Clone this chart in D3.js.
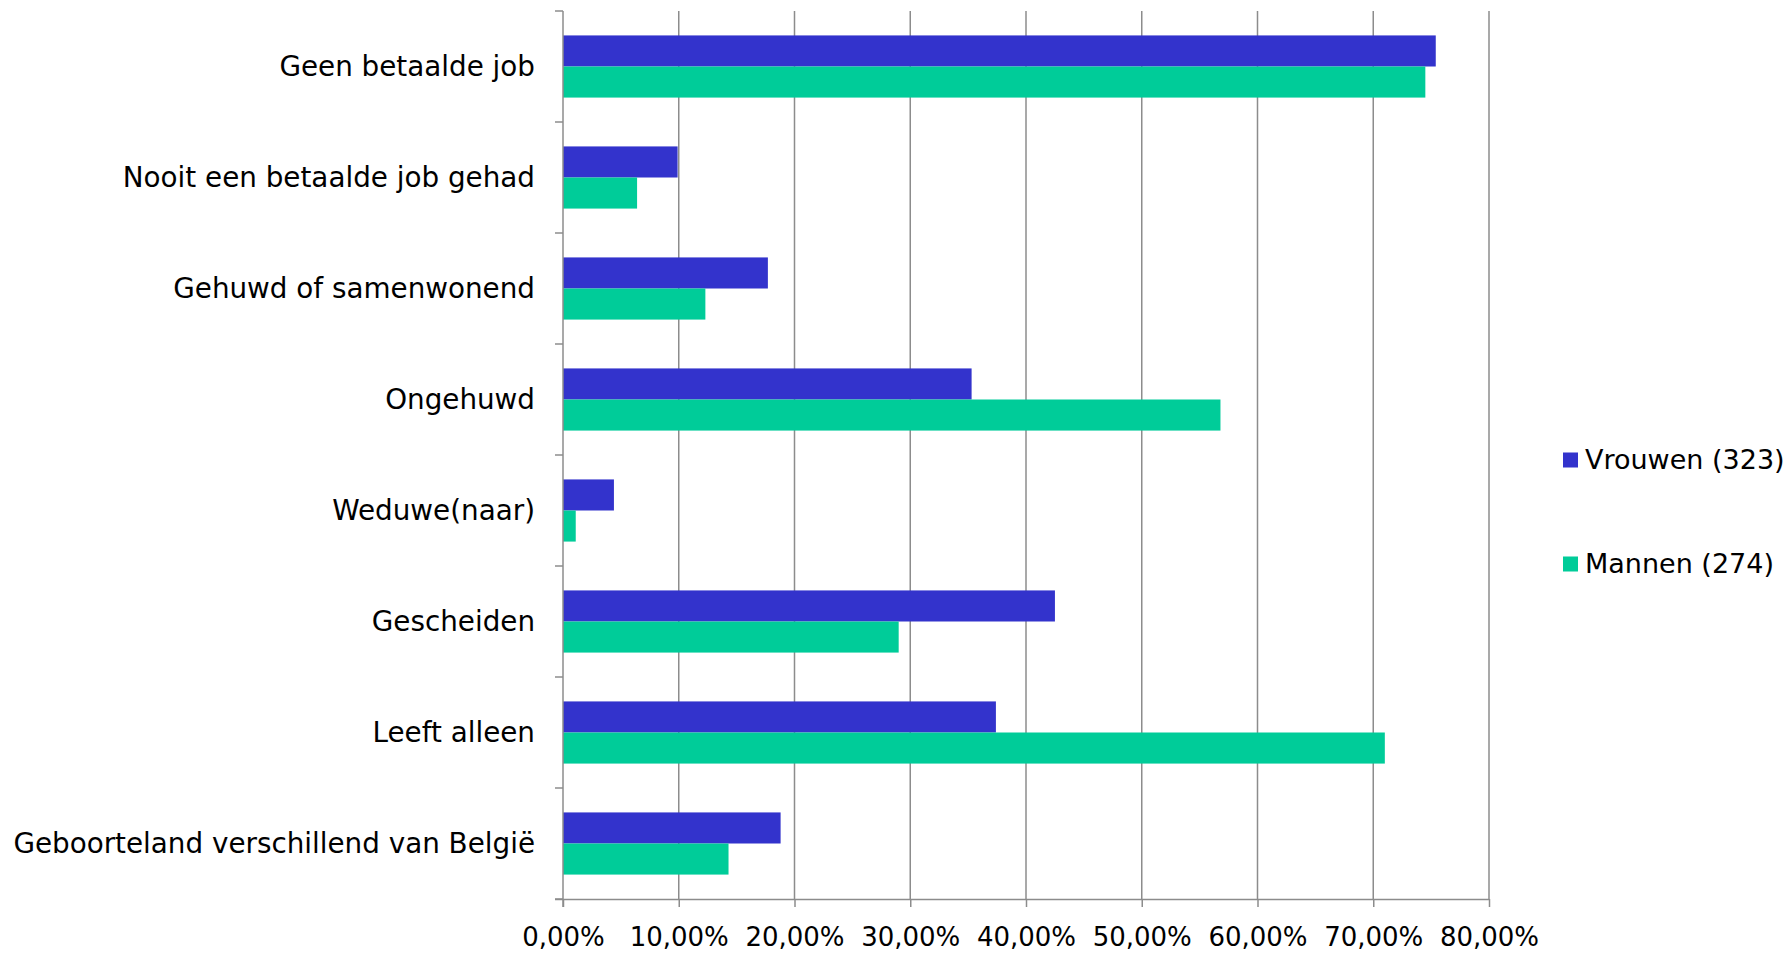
<!DOCTYPE html>
<html>
<head>
<meta charset="utf-8">
<style>
    body { margin: 0; background: #fff; }
    svg { display: block; }
    .cat-label { font-family: "DejaVu Sans", Verdana, sans-serif; font-size: 27.8px; fill: #000; }
    .x .tick text { font-family: "DejaVu Sans", Verdana, sans-serif; font-size: 26px; fill: #000; }
    .legend text { font-family: "DejaVu Sans", Verdana, sans-serif; font-size: 27px; fill: #000; }
</style>
</head>
<body>
<svg width="1789" height="953"></svg>
<script src="https://d3js.org/d3.v7.min.js"></script>
<script>
// categories, top to bottom
const categories = [
    "Geen betaalde job",
    "Nooit een betaalde job gehad",
    "Gehuwd of samenwonend",
    "Ongehuwd",
    "Weduwe(naar)",
    "Gescheiden",
    "Leeft alleen",
    "Geboorteland verschillend van België"
];
const seriesNames = ["Vrouwen (323)", "Mannen (274)"];
// percentages
const vrouwen = [75.4, 9.9, 17.7, 35.3, 4.4, 42.5, 37.4, 18.8];
const mannen = [74.5, 6.4, 12.3, 56.8, 1.1, 29.0, 71.0, 14.3];
const xTicks = [0, 10, 20, 30, 40, 50, 60, 70, 80];

const colors = ["#3333cc", "#00cc99"];
const margin = { top: 11, left: 563, right: 300, bottom: 54 };
const svg = d3.select("svg");
const width = 1789, height = 953;

const x = d3.scaleLinear()
    .domain([0, 80])
    .range([margin.left, 1489]);

const y = d3.scaleBand()
    .domain(categories)
    .range([margin.top, height - margin.bottom])
    .paddingInner(0.44)
    .paddingOuter(0.22);

const bandStep = y.step();
const yStart = margin.top;
const yEnd = height - margin.bottom;

// vertical gridlines
svg.append("g")
    .selectAll("line")
    .data(xTicks.slice(1))
    .join("line")
    .attr("x1", d => x(d)).attr("x2", d => x(d))
    .attr("y1", yStart).attr("y2", yEnd)
    .style("stroke", "#8c8c8c")
    .style("stroke-width", "1.5px");

// bars
const barH = y.bandwidth() / 2;
const rows = categories.map((c, i) => ({ cat: c, vals: [vrouwen[i], mannen[i]] }));
const groups = svg.append("g")
    .selectAll("g")
    .data(rows)
    .join("g")
    .attr("transform", d => `translate(0,${y(d.cat)})`);

groups.selectAll("rect")
    .data(d => d.vals)
    .join("rect")
    .attr("x", x(0))
    .attr("y", (d, i) => i * barH)
    .attr("width", d => x(d) - x(0))
    .attr("height", barH)
    .style("fill", (d, i) => colors[i]);

// x axis
const xAxis = d3.axisBottom(x)
    .tickValues(xTicks)
    .tickSize(8)
    .tickPadding(21)
    .tickFormat(d => d3.format(".2f")(d).replace(".", ",") + "%");

const xg = svg.append("g")
    .attr("class", "x axis")
    .attr("transform", `translate(0,${yEnd})`)
    .call(xAxis);
xg.select(".domain").style("stroke", "#8c8c8c").style("stroke-width", "1.5px")
    .attr("d", `M${x(0) - 8},0.5H${x(80)}`);
xg.selectAll(".tick line").style("stroke", "#8c8c8c").style("stroke-width", "1.5px");

// y axis line + ticks at band boundaries
svg.append("line")
    .attr("x1", x(0)).attr("x2", x(0))
    .attr("y1", yStart).attr("y2", yEnd + 8)
    .style("stroke", "#8c8c8c")
    .style("stroke-width", "1.5px");

const boundaries = d3.range(categories.length + 1).map(i => yStart + i * bandStep);
svg.append("g")
    .selectAll("line")
    .data(boundaries)
    .join("line")
    .attr("x1", x(0) - 8).attr("x2", x(0))
    .attr("y1", d => d).attr("y2", d => d)
    .style("stroke", "#8c8c8c")
    .style("stroke-width", "1.5px");

// category labels
svg.append("g")
    .selectAll("text")
    .data(categories)
    .join("text")
    .attr("class", "cat-label")
    .attr("x", x(0) - 28)
    .attr("y", d => y(d) + y.bandwidth() / 2)
    .attr("dy", "0.35em")
    .attr("text-anchor", "end")
    .text(d => d);

// legend
const legend = svg.append("g")
    .attr("class", "legend")
    .selectAll("g")
    .data(seriesNames)
    .join("g")
    .attr("transform", (d, i) => `translate(1563,${460 + i * 104})`);

legend.append("rect")
    .attr("x", 0).attr("y", -7.5)
    .attr("width", 15).attr("height", 15)
    .style("fill", (d, i) => colors[i]);

legend.append("text")
    .attr("x", 22)
    .attr("dy", "0.35em")
    .text(d => d);
</script>
</body>
</html>
